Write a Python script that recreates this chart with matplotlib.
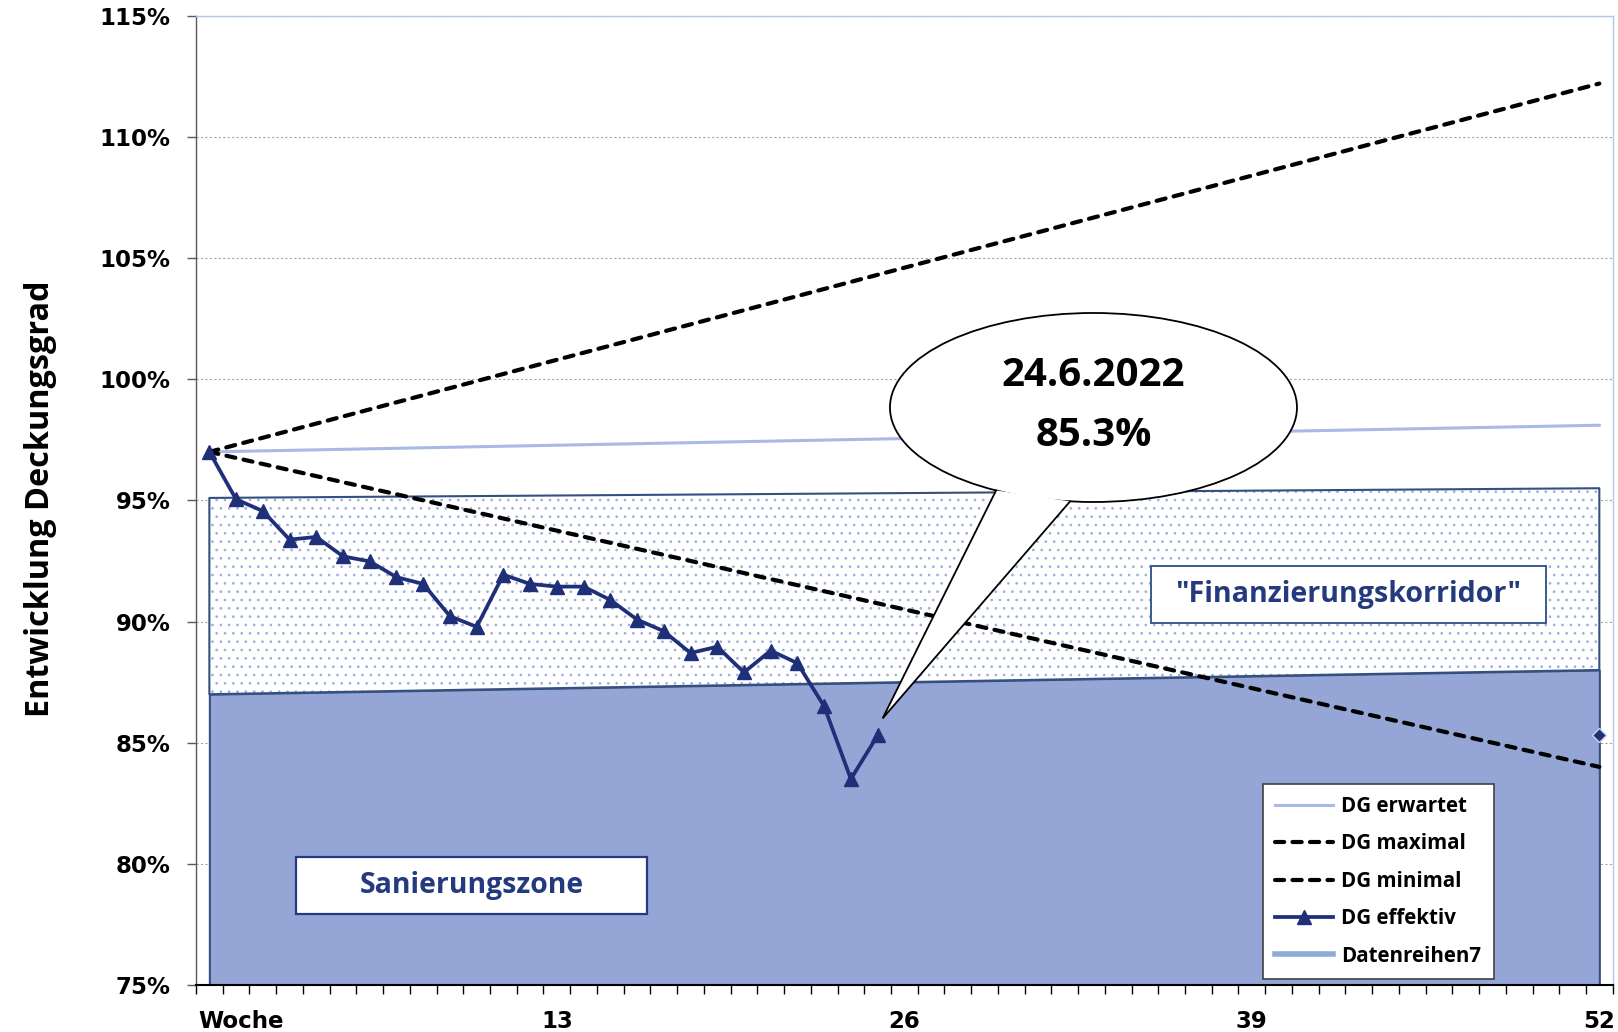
import matplotlib
matplotlib.use("Agg")
import matplotlib.pyplot as plt
from matplotlib.patches import Ellipse, Rectangle, Polygon
import matplotlib.transforms as mtransforms
import numpy as np

# ---------------- data ----------------
tick_labels = ["Woche", "13", "26", "39", "52"]
tick_weeks = [0, 13, 26, 39, 52]
n_weeks = 52

eff_weeks = list(range(0, 26))
dg_effektiv = [97.0, 95.04, 94.56, 93.38, 93.49, 92.69, 92.48, 91.83, 91.55,
               90.22, 89.78, 91.93, 91.55, 91.44, 91.44, 90.89, 90.08, 89.6,
               88.7, 88.96, 87.9, 88.8, 88.28, 86.5, 83.5, 85.3]

line_weeks = [0, 52]
dg_erwartet = [97.0, 98.1]
dg_maximal = [97.0, 112.2]
dg_minimal = [97.0, 84.0]
sanierung_top = [87.0, 88.0]
korridor_top = [95.1, 95.5]
area_floor = 75.0

marker_week = 52
marker_value = 85.3

callout_week = 25
callout_date = "24.6.2022"
callout_value = 85.3

y_ticks = [75, 80, 85, 90, 95, 100, 105, 110, 115]

# ---------------- style ----------------
NAVY = "#1f2f78"
TXT_NAVY = "#243a7f"
AREA = "#95a6d6"
AREA_EDGE = "#34507e"
DOTS = "#9aaee3"
ERW = "#a9b9e3"
DR7 = "#8eaad6"
FRAME = "#b4c6e7"

plt.rcParams["hatch.linewidth"] = 0.7
plt.rcParams["hatch.color"] = DOTS

W, H = 1618, 1032
fig = plt.figure(figsize=(W / 100, H / 100), dpi=100)
ax = fig.add_axes([196 / W, 47 / H, 1416.7 / W, 969.3 / H])

ax.set_xlim(-0.5, n_weeks + 0.5)
ax.set_ylim(y_ticks[0], y_ticks[-1])

# grid
ax.set_axisbelow(True)
ax.yaxis.grid(True, color="#a6a6a6", ls=(0, (2, 2)), lw=0.8)

# areas
ax.fill_between(line_weeks, area_floor, sanierung_top, facecolor=AREA,
                edgecolor=AREA_EDGE, lw=1.5, zorder=2)
ax.fill_between(line_weeks, sanierung_top, korridor_top, facecolor="white",
                edgecolor=DOTS, hatch="..", lw=0, zorder=2)
ax.fill_between(line_weeks, sanierung_top, korridor_top, facecolor="none",
                edgecolor=AREA_EDGE, lw=1.5, zorder=2.1)

# lines
ax.plot(line_weeks, dg_erwartet, color=ERW, lw=2.2, label="DG erwartet", zorder=3)
ax.plot(line_weeks, dg_maximal, color="black", lw=3, dashes=(2.2, 2.0),
        dash_capstyle="round", label="DG maximal", zorder=3)
ax.plot(line_weeks, dg_minimal, color="black", lw=3, dashes=(2.2, 2.0),
        dash_capstyle="round", label="DG minimal", zorder=3)
ax.plot(eff_weeks, dg_effektiv, color=NAVY, lw=2.7, marker="^", markersize=10,
        label="DG effektiv", zorder=4)
ax.plot([], [], color=DR7, lw=4, label="Datenreihen7")
ax.plot([marker_week], [marker_value], marker="D", color=NAVY, markersize=7,
        mec="#c8d0e6", mew=1, ls="none", zorder=4)

# axes styling
for s in ("top", "right"):
    ax.spines[s].set_color(FRAME)
    ax.spines[s].set_linewidth(1)
ax.spines["left"].set_color("#595959")
ax.spines["left"].set_linewidth(1)
ax.spines["bottom"].set_color("black")
ax.spines["bottom"].set_linewidth(1.5)

ax.set_yticks(y_ticks)
ax.set_yticklabels([f"{v}%" for v in y_ticks], fontfamily="DejaVu Sans",
                   fontweight="bold", fontsize=16.5)
ax.tick_params(axis="y", direction="out", length=6.3, width=1, color="#595959", pad=12)

ax.set_xticks(tick_weeks)
ax.set_xticklabels(tick_labels, fontfamily="DejaVu Sans", fontweight="bold", fontsize=16.5)
ax.set_xticks(np.arange(-0.5, n_weeks + 1, 1), minor=True)
ax.tick_params(axis="x", which="major", length=0, pad=18)
ax.tick_params(axis="x", which="minor", direction="out", length=6.5, width=1, color="black")
# Excel keeps the first label inside the plot area: left-align it at the axis
first = ax.get_xticklabels()[0]
first.set_ha("left")
first.set_transform(first.get_transform() +
                    mtransforms.ScaledTranslation(-11 / 100, 0, fig.dpi_scale_trans))

# y label
fig.text(40.5 / W, 1 - 498.5 / H, "Entwicklung Deckungsgrad", rotation=90,
         ha="center", va="center", fontfamily="Open Sans", fontweight="bold",
         fontsize=23.3)

# text boxes
ax.add_patch(Rectangle((0.0704, 0.0733), 0.2482, 0.0591, transform=ax.transAxes,
                       facecolor="white", edgecolor="#253a85", lw=1.6, zorder=5))
ax.text(0.0704 + 0.2482 / 2, 0.0733 + 0.0591 / 2, "Sanierungszone",
        transform=ax.transAxes, ha="center", va="center", color=TXT_NAVY,
        fontfamily="Open Sans", fontweight="bold", fontsize=20.4, zorder=6)

ax.add_patch(Rectangle((0.6738, 0.3732), 0.279, 0.0586, transform=ax.transAxes,
                       facecolor="white", edgecolor="#3a5a8a", lw=1.4, zorder=5))
ax.text(0.6738 + 0.279 / 2, 0.3732 + 0.0586 / 2, '"Finanzierungskorridor"',
        transform=ax.transAxes, ha="center", va="center", color=TXT_NAVY,
        fontfamily="Open Sans", fontweight="bold", fontsize=20.6, zorder=6)

# callout
cx, cy, ew, eh = 0.6335, 0.5958, 0.2873, 0.195
t1, t2 = np.deg2rad(-118.6), np.deg2rad(-96.6)
b1 = (cx + ew / 2 * np.cos(t1), cy + eh / 2 * np.sin(t1))
b2 = (cx + ew / 2 * np.cos(t2), cy + eh / 2 * np.sin(t2))
tip_disp = ax.transData.transform((callout_week, callout_value)) + np.array([5, 17])
tip = ax.transAxes.inverted().transform(tip_disp)
ax.add_patch(Ellipse((cx, cy), ew, eh, transform=ax.transAxes, facecolor="white",
                     edgecolor="black", lw=1.3, zorder=6))
ax.add_patch(Polygon([b1, b2, tuple(tip)], closed=True, transform=ax.transAxes,
                     facecolor="white", edgecolor="none", zorder=6.1))
ax.plot([b1[0], tip[0], b2[0]], [b1[1], tip[1], b2[1]], color="black", lw=1.3,
        transform=ax.transAxes, zorder=6.2, solid_joinstyle="miter")
ax.text(cx, cy + 0.033, callout_date, transform=ax.transAxes, ha="center",
        va="center", fontfamily="Open Sans", fontweight="bold", fontsize=29, zorder=7)
ax.text(cx, cy - 0.029, f"{callout_value}%", transform=ax.transAxes, ha="center",
        va="center", fontfamily="Open Sans", fontweight="bold", fontsize=29, zorder=7)

# legend
leg = ax.legend(loc="lower left", bbox_to_anchor=(0.7532, 0.0062), frameon=True,
                fancybox=False, framealpha=1, edgecolor="#404040",
                prop={"family": "Open Sans", "weight": "bold", "size": 14.8},
                handlelength=2.8, handletextpad=0.4, labelspacing=0.8,
                borderpad=0.6, borderaxespad=0, numpoints=1)
leg.get_frame().set_linewidth(1.2)
leg.set_zorder(8)

fig.savefig("out.png", dpi=100)
